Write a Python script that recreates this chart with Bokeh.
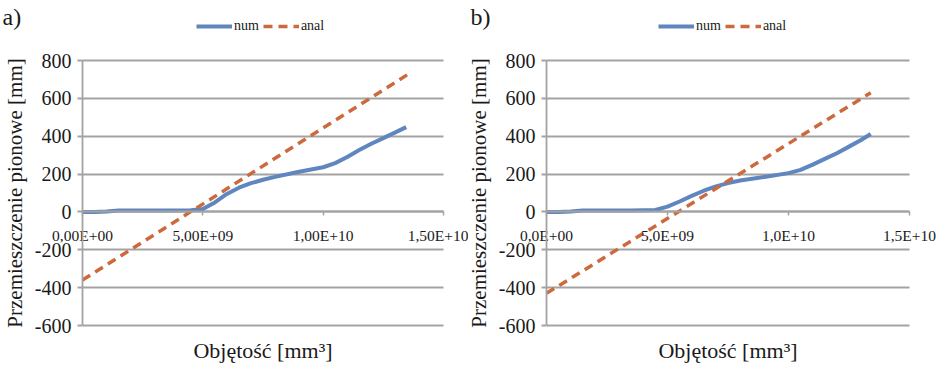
from bokeh.plotting import figure
from bokeh.models import Range1d, FixedTicker, Legend, LegendItem, Label
from bokeh.layouts import row
from bokeh.embed import file_html
from bokeh.resources import INLINE

FONT = "Liberation Serif"

# ---- data ----
ytick_values = [-600, -400, -200, 0, 200, 400, 600, 800]
ytick_labels = ["-600", "-400", "-200", "0", "200", "400", "600", "800"]
xtick_values = [0.0, 5.0e9, 1.0e10, 1.5e10]
xtick_labels_a = ["0,00E+00", "5,00E+09", "1,00E+10", "1,50E+10"]
xtick_labels_b = ["0,0E+00", "5,0E+09", "1,0E+10", "1,5E+10"]

num_a_x = [0, 0.5e9, 1.0e9, 1.5e9, 2.5e9, 3.5e9, 4.5e9, 5.0e9, 5.5e9, 6.0e9, 6.5e9,
           7.0e9, 7.5e9, 8.0e9, 9.0e9, 1.0e10, 1.05e10, 1.1e10, 1.15e10, 1.2e10,
           1.25e10, 1.3e10, 1.345e10]
num_a_y = [0, 0, 2, 7, 8, 8, 9, 15, 50, 95, 128, 152, 170, 185, 212, 236, 258, 290,
           327, 360, 390, 420, 448]
anal_a_x = [0, 1.35e10]
anal_a_y = [-360, 725]

num_b_x = [0, 0.5e9, 1.0e9, 1.5e9, 2.5e9, 3.5e9, 4.5e9, 5.0e9, 5.5e9, 6.0e9, 6.5e9,
           7.0e9, 7.5e9, 8.0e9, 9.0e9, 1.0e10, 1.05e10, 1.1e10, 1.15e10, 1.2e10,
           1.25e10, 1.3e10, 1.34e10]
num_b_y = [0, 0, 2, 7, 8, 8, 10, 28, 55, 85, 112, 135, 152, 166, 185, 205, 222, 250,
           280, 310, 345, 380, 412]
anal_b_x = [0, 1.34e10]
anal_b_y = [-430, 630]

X_MIN, X_MAX = 0.0, 1.5e10
Y_MIN, Y_MAX = -600, 800

NUM_COLOR = "#5f86bf"
ANAL_COLOR = "#cc6a3d"
GRID = "#a3a3a3"
TXT = "#1a1a1a"

W, H = 468, 366


def make_panel(tag, num_x, num_y, anal_x, anal_y, xlabels, fx0, fx1, fy0, fy1, leg_x):
    # plot area in pixels inside the panel: x fx0..fx1, y fy0 (top)..fy1 (bottom)
    sx = (X_MAX - X_MIN) / (fx1 - fx0)
    sy = (Y_MAX - Y_MIN) / (fy1 - fy0)
    xr = Range1d(X_MIN - fx0 * sx, X_MAX + (W - fx1) * sx)
    yr = Range1d(Y_MIN - (H - fy1) * sy, Y_MAX + fy0 * sy)

    p = figure(width=W, height=H, output_backend="svg", toolbar_location=None,
               x_range=xr, y_range=yr,
               min_border_left=0, min_border_right=0,
               min_border_top=0, min_border_bottom=0)
    p.outline_line_color = None
    p.background_fill_color = "white"
    p.border_fill_color = "white"
    p.xgrid.visible = False

    ya = p.yaxis[0]
    ya.fixed_location = X_MIN
    ya.bounds = (Y_MIN, Y_MAX)
    ya.ticker = FixedTicker(ticks=ytick_values)
    ya.major_label_overrides = {v: s for v, s in zip(ytick_values, ytick_labels)}
    ya.axis_line_color = GRID
    ya.axis_line_width = 1.8
    ya.major_tick_line_color = GRID
    ya.major_tick_line_width = 1.8
    ya.major_tick_out = 5
    ya.major_tick_in = 0
    ya.minor_tick_line_color = None
    ya.major_label_text_font = FONT
    ya.major_label_text_font_size = "20px"
    ya.major_label_text_color = TXT
    ya.major_label_standoff = 6
    ya.axis_label = "Przemieszczenie pionowe [mm]"
    ya.axis_label_text_font = FONT
    ya.axis_label_text_font_size = "21px"
    ya.axis_label_text_font_style = "normal"
    ya.axis_label_text_color = TXT
    ya.axis_label_standoff = 5

    p.ygrid.ticker = FixedTicker(ticks=ytick_values)
    p.ygrid.grid_line_color = GRID
    p.ygrid.grid_line_width = 1.8
    try:
        p.ygrid.cross_bounds = (X_MIN, X_MAX)
    except AttributeError:
        p.ygrid.visible = False
        p.segment(x0=[X_MIN] * len(ytick_values), x1=[X_MAX] * len(ytick_values),
                  y0=ytick_values, y1=ytick_values, line_color=GRID, line_width=1.8)

    xa = p.xaxis[0]
    xa.fixed_location = 0
    xa.bounds = (X_MIN, X_MAX)
    xa.ticker = FixedTicker(ticks=xtick_values)
    xa.major_label_overrides = {v: s for v, s in zip(xtick_values, xlabels)}
    xa.axis_line_color = GRID
    xa.axis_line_width = 1.8
    xa.major_tick_line_color = GRID
    xa.major_tick_line_width = 1.5
    xa.major_tick_out = 4
    xa.major_tick_in = 0
    xa.minor_tick_line_color = None
    xa.major_label_text_font = FONT
    xa.major_label_text_font_size = "15.5px"
    xa.major_label_text_color = TXT
    xa.major_label_standoff = 11

    r_num = p.line(num_x, num_y, line_color=NUM_COLOR, line_width=4, line_join="round")
    r_anal = p.line(anal_x, anal_y, line_color=ANAL_COLOR, line_width=3.5, line_dash="9 6")

    legend = Legend(items=[LegendItem(label="num", renderers=[r_num]),
                           LegendItem(label="anal", renderers=[r_anal])],
                    orientation="horizontal", location=(leg_x, H - 34))
    legend.border_line_color = None
    legend.background_fill_alpha = 0
    legend.padding = 0
    legend.margin = 0
    legend.spacing = 4
    legend.glyph_width = 36
    legend.glyph_height = 14
    legend.label_height = 14
    legend.label_standoff = 2
    legend.label_text_font = FONT
    legend.label_text_font_size = "14px"
    legend.label_text_color = TXT
    p.add_layout(legend)

    # panel tag "a)" / "b)" in the top-left corner
    p.add_layout(Label(x=X_MIN, y=Y_MAX, x_offset=-fx0 + 2, y_offset=fy0 - 3, text=tag,
                       text_font=FONT, text_font_size="24px", text_color=TXT,
                       text_baseline="top"))
    # x-axis title below the plot area
    p.add_layout(Label(x=(X_MIN + X_MAX) / 2, y=Y_MIN, y_offset=-12,
                       text="Objętość [mm³]", text_align="center", text_baseline="top",
                       text_font=FONT, text_font_size="22px", text_color=TXT))
    return p


pa = make_panel("a)", num_a_x, num_a_y, anal_a_x, anal_a_y, xtick_labels_a,
                82, 443, 60, 325, 196)
pb = make_panel("b)", num_b_x, num_b_y, anal_b_x, anal_b_y, xtick_labels_b,
                78, 441, 60, 325, 190)

layout = row(pa, pb)
open("out.html", "w").write(file_html(layout, INLINE))
